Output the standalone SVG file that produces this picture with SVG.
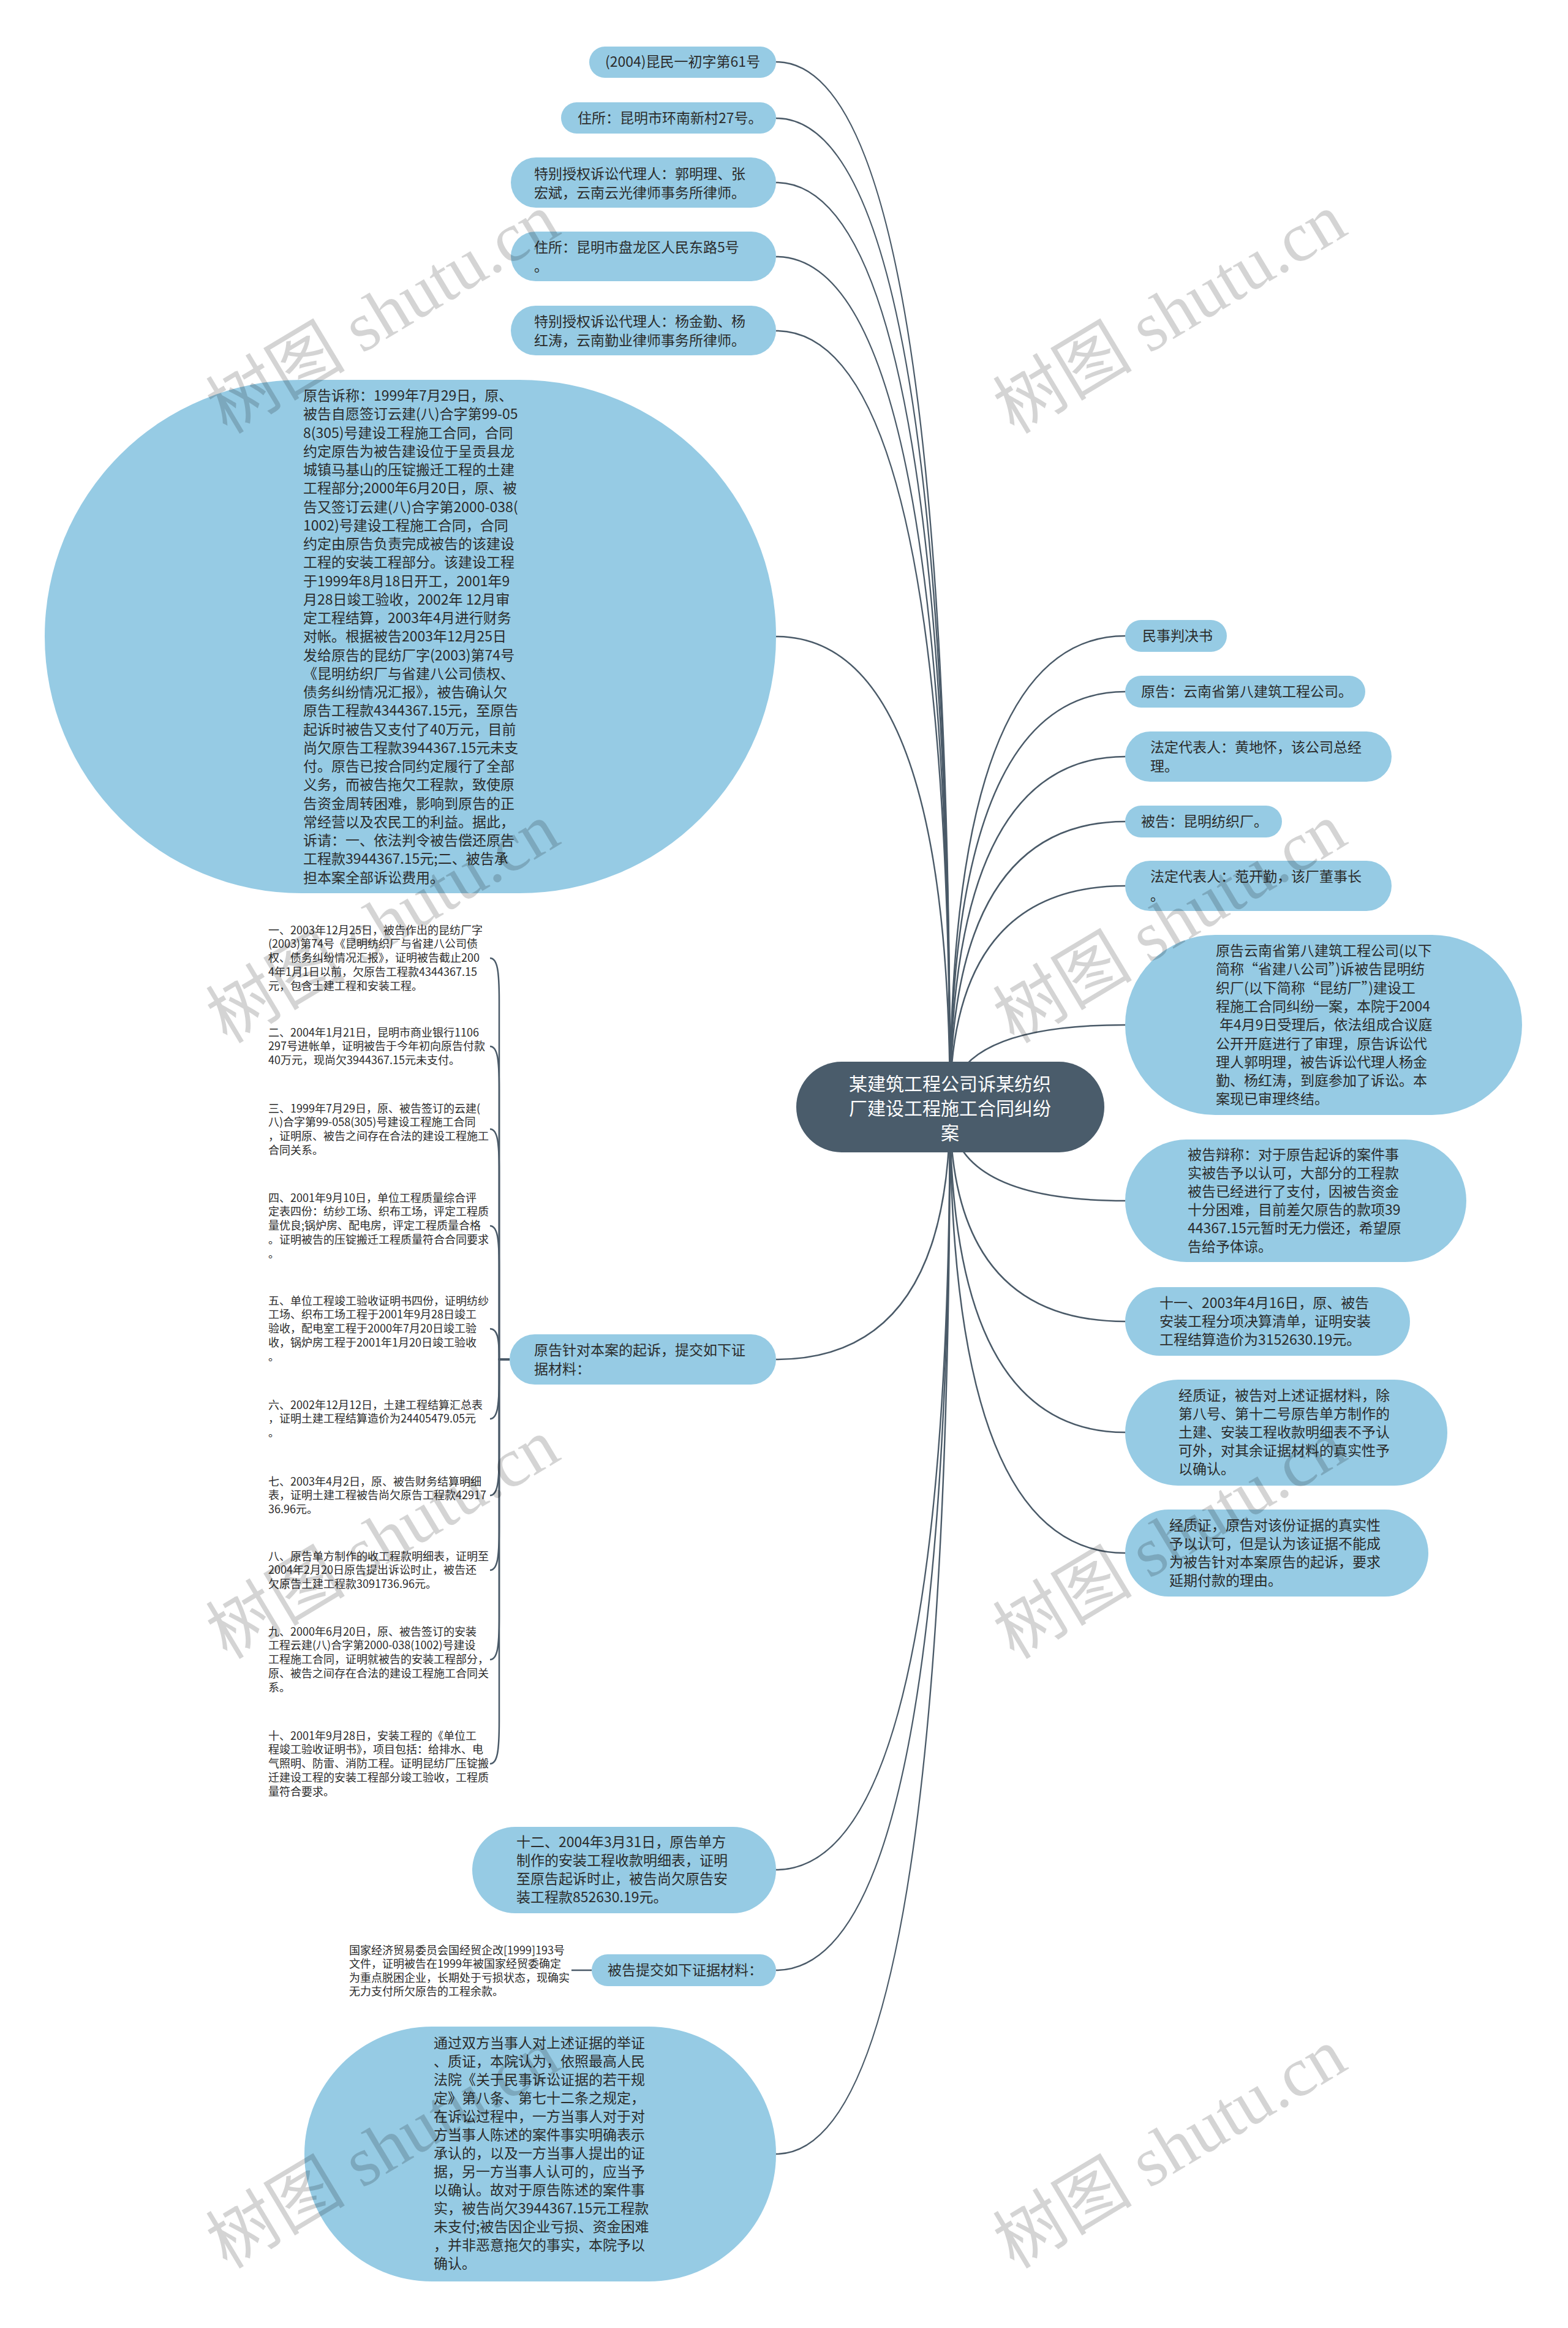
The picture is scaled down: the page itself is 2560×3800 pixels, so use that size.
<svg xmlns="http://www.w3.org/2000/svg" width="2560" height="3800" viewBox="0 0 2560 3800">
<style>
.n{fill:#96cbe4}
.c{fill:#4a5c6b}
.t{font-family:"Noto Sans CJK SC","Noto Sans",sans-serif;font-size:23px;fill:#2b2b2b}
.s{font-family:"Noto Sans CJK SC","Noto Sans",sans-serif;font-size:18px;fill:#2b2b2b}
.ct{font-family:"Noto Sans CJK SC","Noto Sans",sans-serif;font-size:30px;fill:#ffffff;text-anchor:middle}
.e{fill:none;stroke:#4a5a68;stroke-width:2.5}
.w{font-family:"Liberation Serif","Noto Sans CJK SC",serif;font-size:114px;fill:#000;fill-opacity:0.17;text-anchor:middle}
</style>
<rect width="2560" height="3800" fill="#ffffff"/>
<g id="connectors">
<path class="e" d="M1267,101 Q1551,101 1551,1807"/>
<path class="e" d="M1267,193 Q1551,193 1551,1807"/>
<path class="e" d="M1267,298 Q1551,298 1551,1807"/>
<path class="e" d="M1267,419 Q1551,419 1551,1807"/>
<path class="e" d="M1267,540 Q1551,540 1551,1807"/>
<path class="e" d="M1267,1039 Q1551,1039 1551,1807"/>
<path class="e" d="M1267,2219 Q1551,2219 1551,1807"/>
<path class="e" d="M1267,3052 Q1551,3052 1551,1807"/>
<path class="e" d="M1267,3216 Q1551,3216 1551,1807"/>
<path class="e" d="M1267,3516 Q1551,3516 1551,1807"/>
<path class="e" d="M1551,1807 Q1551,1038 1837,1038"/>
<path class="e" d="M1551,1807 Q1551,1129 1837,1129"/>
<path class="e" d="M1551,1807 Q1551,1235 1837,1235"/>
<path class="e" d="M1551,1807 Q1551,1341 1837,1341"/>
<path class="e" d="M1551,1807 Q1551,1446 1837,1446"/>
<path class="e" d="M1551,1807 Q1551,1673 1837,1673"/>
<path class="e" d="M1551,1807 Q1551,1960 1837,1960"/>
<path class="e" d="M1551,1807 Q1551,2157 1837,2157"/>
<path class="e" d="M1551,1807 Q1551,2338 1837,2338"/>
<path class="e" d="M1551,1807 Q1551,2535 1837,2535"/>
<path class="e" d="M800,1564 C812,1564 815,1584 815,1634 L815,2219 L832,2219"/>
<path class="e" d="M800,1708 C812,1708 815,1728 815,1778 L815,2219 L832,2219"/>
<path class="e" d="M800,1843 C812,1843 815,1863 815,1913 L815,2219 L832,2219"/>
<path class="e" d="M800,2001 C812,2001 815,2021 815,2071 L815,2219 L832,2219"/>
<path class="e" d="M800,2169 C812,2169 815,2184 815,2219 L832,2219"/>
<path class="e" d="M800,2316 C812,2316 815,2296 815,2246 L815,2219 L832,2219"/>
<path class="e" d="M800,2441 C812,2441 815,2421 815,2371 L815,2219 L832,2219"/>
<path class="e" d="M800,2563 C812,2563 815,2543 815,2493 L815,2219 L832,2219"/>
<path class="e" d="M800,2709 C812,2709 815,2689 815,2639 L815,2219 L832,2219"/>
<path class="e" d="M800,2879 C812,2879 815,2859 815,2809 L815,2219 L832,2219"/>
<path class="e" d="M933,3216 L966,3216"/>
</g>
<g id="n-center">
<rect class="c" x="1300" y="1733" width="503" height="148" rx="74"/>
<text class="ct"><tspan x="1551" y="1780">某建筑工程公司诉某纺织</tspan><tspan x="1551" y="1820">厂建设工程施工合同纠纷</tspan><tspan x="1551" y="1860">案</tspan></text>
</g>
<g id="n-case-no">
<rect class="n" x="962" y="76" width="305" height="51" rx="25.5"/>
<text class="t" x="988" y="109">(2004)昆民一初字第61号</text>
</g>
<g id="n-addr1">
<rect class="n" x="916" y="167" width="351" height="51" rx="25.5"/>
<text class="t" x="943" y="201">住所：昆明市环南新村27号。</text>
</g>
<g id="n-agent1">
<rect class="n" x="834" y="257" width="433" height="82" rx="41"/>
<text class="t"><tspan x="872" y="292">特别授权诉讼代理人：郭明理、张</tspan><tspan x="872" y="323">宏斌，云南云光律师事务所律师。</tspan></text>
</g>
<g id="n-addr2">
<rect class="n" x="834" y="378" width="433" height="81" rx="40.5"/>
<text class="t"><tspan x="872" y="412">住所：昆明市盘龙区人民东路5号</tspan><tspan x="872" y="443">。</tspan></text>
</g>
<g id="n-agent2">
<rect class="n" x="834" y="499" width="433" height="81" rx="40.5"/>
<text class="t"><tspan x="872" y="533">特别授权诉讼代理人：杨金勤、杨</tspan><tspan x="872" y="564">红涛，云南勤业律师事务所律师。</tspan></text>
</g>
<g id="n-claim">
<rect class="n" x="73" y="620" width="1194" height="838" rx="419"/>
<text class="t"><tspan x="495" y="654">原告诉称：1999年7月29日，原、</tspan><tspan x="495" dy="30.25">被告自愿签订云建(八)合字第99-05</tspan><tspan x="495" dy="30.25">8(305)号建设工程施工合同，合同</tspan><tspan x="495" dy="30.25">约定原告为被告建设位于呈贡县龙</tspan><tspan x="495" dy="30.25">城镇马基山的压锭搬迁工程的土建</tspan><tspan x="495" dy="30.25">工程部分;2000年6月20日，原、被</tspan><tspan x="495" dy="30.25">告又签订云建(八)合字第2000-038(</tspan><tspan x="495" dy="30.25">1002)号建设工程施工合同，合同</tspan><tspan x="495" dy="30.25">约定由原告负责完成被告的该建设</tspan><tspan x="495" dy="30.25">工程的安装工程部分。该建设工程</tspan><tspan x="495" dy="30.25">于1999年8月18日开工，2001年9</tspan><tspan x="495" dy="30.25">月28日竣工验收，2002年 12月审</tspan><tspan x="495" dy="30.25">定工程结算，2003年4月进行财务</tspan><tspan x="495" dy="30.25">对帐。根据被告2003年12月25日</tspan><tspan x="495" dy="30.25">发给原告的昆纺厂字(2003)第74号</tspan><tspan x="495" dy="30.25">《昆明纺织厂与省建八公司债权、</tspan><tspan x="495" dy="30.25">债务纠纷情况汇报》，被告确认欠</tspan><tspan x="495" dy="30.25">原告工程款4344367.15元，至原告</tspan><tspan x="495" dy="30.25">起诉时被告又支付了40万元，目前</tspan><tspan x="495" dy="30.25">尚欠原告工程款3944367.15元未支</tspan><tspan x="495" dy="30.25">付。原告已按合同约定履行了全部</tspan><tspan x="495" dy="30.25">义务，而被告拖欠工程款，致使原</tspan><tspan x="495" dy="30.25">告资金周转困难，影响到原告的正</tspan><tspan x="495" dy="30.25">常经营以及农民工的利益。据此，</tspan><tspan x="495" dy="30.25">诉请：一、依法判令被告偿还原告</tspan><tspan x="495" dy="30.25">工程款3944367.15元;二、被告承</tspan><tspan x="495" dy="30.25">担本案全部诉讼费用。</tspan></text>
</g>
<g id="n-ev1">
<text class="s"><tspan x="438" y="1524.5">一、2003年12月25日，被告作出的昆纺厂字</tspan><tspan x="438" dy="22.8">(2003)第74号《昆明纺织厂与省建八公司债</tspan><tspan x="438" dy="22.8">权、债务纠纷情况汇报》，证明被告截止200</tspan><tspan x="438" dy="22.8">4年1月1日以前，欠原告工程款4344367.15</tspan><tspan x="438" dy="22.8">元，包含土建工程和安装工程。</tspan></text>
</g>
<g id="n-ev2">
<text class="s"><tspan x="438" y="1691.5">二、2004年1月21日，昆明市商业银行1106</tspan><tspan x="438" dy="22.8">297号进帐单，证明被告于今年初向原告付款</tspan><tspan x="438" dy="22.8">40万元，现尚欠3944367.15元未支付。</tspan></text>
</g>
<g id="n-ev3">
<text class="s"><tspan x="438" y="1815.5">三、1999年7月29日，原、被告签订的云建(</tspan><tspan x="438" dy="22.8">八)合字第99-058(305)号建设工程施工合同</tspan><tspan x="438" dy="22.8">，证明原、被告之间存在合法的建设工程施工</tspan><tspan x="438" dy="22.8">合同关系。</tspan></text>
</g>
<g id="n-ev4">
<text class="s"><tspan x="438" y="1961.5">四、2001年9月10日，单位工程质量综合评</tspan><tspan x="438" dy="22.8">定表四份：纺纱工场、织布工场，评定工程质</tspan><tspan x="438" dy="22.8">量优良;锅炉房、配电房，评定工程质量合格</tspan><tspan x="438" dy="22.8">。证明被告的压锭搬迁工程质量符合合同要求</tspan><tspan x="438" dy="22.8">。</tspan></text>
</g>
<g id="n-ev5">
<text class="s"><tspan x="438" y="2129.5">五、单位工程竣工验收证明书四份，证明纺纱</tspan><tspan x="438" dy="22.8">工场、织布工场工程于2001年9月28日竣工</tspan><tspan x="438" dy="22.8">验收，配电室工程于2000年7月20日竣工验</tspan><tspan x="438" dy="22.8">收，锅炉房工程于2001年1月20日竣工验收</tspan><tspan x="438" dy="22.8">。</tspan></text>
</g>
<g id="n-ev6">
<text class="s"><tspan x="438" y="2299.5">六、2002年12月12日，土建工程结算汇总表</tspan><tspan x="438" dy="22.8">，证明土建工程结算造价为24405479.05元</tspan><tspan x="438" dy="22.8">。</tspan></text>
</g>
<g id="n-ev7">
<text class="s"><tspan x="438" y="2424.5">七、2003年4月2日，原、被告财务结算明细</tspan><tspan x="438" dy="22.8">表，证明土建工程被告尚欠原告工程款42917</tspan><tspan x="438" dy="22.8">36.96元。</tspan></text>
</g>
<g id="n-ev8">
<text class="s"><tspan x="438" y="2546.5">八、原告单方制作的收工程款明细表，证明至</tspan><tspan x="438" dy="22.8">2004年2月20日原告提出诉讼时止，被告还</tspan><tspan x="438" dy="22.8">欠原告土建工程款3091736.96元。</tspan></text>
</g>
<g id="n-ev9">
<text class="s"><tspan x="438" y="2669.5">九、2000年6月20日，原、被告签订的安装</tspan><tspan x="438" dy="22.8">工程云建(八)合字第2000-038(1002)号建设</tspan><tspan x="438" dy="22.8">工程施工合同，证明就被告的安装工程部分，</tspan><tspan x="438" dy="22.8">原、被告之间存在合法的建设工程施工合同关</tspan><tspan x="438" dy="22.8">系。</tspan></text>
</g>
<g id="n-ev10">
<text class="s"><tspan x="438" y="2839.5">十、2001年9月28日，安装工程的《单位工</tspan><tspan x="438" dy="22.8">程竣工验收证明书》，项目包括：给排水、电</tspan><tspan x="438" dy="22.8">气照明、防雷、消防工程。证明昆纺厂压锭搬</tspan><tspan x="438" dy="22.8">迁建设工程的安装工程部分竣工验收，工程质</tspan><tspan x="438" dy="22.8">量符合要求。</tspan></text>
</g>
<g id="n-plaintiff-evidence">
<rect class="n" x="832" y="2178" width="435" height="82" rx="41"/>
<text class="t"><tspan x="872" y="2212">原告针对本案的起诉，提交如下证</tspan><tspan x="872" y="2243">据材料：</tspan></text>
</g>
<g id="n-ev12">
<rect class="n" x="771" y="2982" width="496" height="141" rx="70.5"/>
<text class="t"><tspan x="843" y="3015">十二、2004年3月31日，原告单方</tspan><tspan x="843" dy="30">制作的安装工程收款明细表，证明</tspan><tspan x="843" dy="30">至原告起诉时止，被告尚欠原告安</tspan><tspan x="843" dy="30">装工程款852630.19元。</tspan></text>
</g>
<g id="n-defendant-evidence">
<rect class="n" x="966" y="3190" width="301" height="52" rx="26"/>
<text class="t" x="992" y="3224">被告提交如下证据材料：</text>
</g>
<g id="n-def-ev1">
<text class="s"><tspan x="570" y="3189.5">国家经济贸易委员会国经贸企改[1999]193号</tspan><tspan x="570" dy="22.5">文件，证明被告在1999年被国家经贸委确定</tspan><tspan x="570" dy="22.5">为重点脱困企业，长期处于亏损状态，现确实</tspan><tspan x="570" dy="22.5">无力支付所欠原告的工程余款。</tspan></text>
</g>
<g id="n-court-finding">
<rect class="n" x="497" y="3308" width="770" height="416" rx="208"/>
<text class="t"><tspan x="708" y="3343">通过双方当事人对上述证据的举证</tspan><tspan x="708" dy="30">、质证，本院认为，依照最高人民</tspan><tspan x="708" dy="30">法院《关于民事诉讼证据的若干规</tspan><tspan x="708" dy="30">定》第八条、第七十二条之规定，</tspan><tspan x="708" dy="30">在诉讼过程中，一方当事人对于对</tspan><tspan x="708" dy="30">方当事人陈述的案件事实明确表示</tspan><tspan x="708" dy="30">承认的，以及一方当事人提出的证</tspan><tspan x="708" dy="30">据，另一方当事人认可的，应当予</tspan><tspan x="708" dy="30">以确认。故对于原告陈述的案件事</tspan><tspan x="708" dy="30">实，被告尚欠3944367.15元工程款</tspan><tspan x="708" dy="30">未支付;被告因企业亏损、资金困难</tspan><tspan x="708" dy="30">，并非恶意拖欠的事实，本院予以</tspan><tspan x="708" dy="30">确认。</tspan></text>
</g>
<g id="n-judgment">
<rect class="n" x="1837" y="1012" width="166" height="52" rx="26"/>
<text class="t" x="1865" y="1046">民事判决书</text>
</g>
<g id="n-plaintiff">
<rect class="n" x="1837" y="1103" width="392" height="52" rx="26"/>
<text class="t" x="1863" y="1137">原告：云南省第八建筑工程公司。</text>
</g>
<g id="n-rep1">
<rect class="n" x="1837" y="1194" width="435" height="82" rx="41"/>
<text class="t"><tspan x="1878" y="1228">法定代表人：黄地怀，该公司总经</tspan><tspan x="1878" y="1259">理。</tspan></text>
</g>
<g id="n-defendant">
<rect class="n" x="1837" y="1315" width="256" height="52" rx="26"/>
<text class="t" x="1863" y="1349">被告：昆明纺织厂。</text>
</g>
<g id="n-rep2">
<rect class="n" x="1837" y="1405" width="435" height="82" rx="41"/>
<text class="t"><tspan x="1878" y="1439">法定代表人：范开勤，该厂董事长</tspan><tspan x="1878" y="1470">。</tspan></text>
</g>
<g id="n-case">
<rect class="n" x="1837" y="1526" width="648" height="294" rx="147"/>
<text class="t"><tspan x="1985" y="1560">原告云南省第八建筑工程公司(以下</tspan><tspan x="1985" dy="30.3">简称“省建八公司”)诉被告昆明纺</tspan><tspan x="1985" dy="30.3">织厂(以下简称“昆纺厂”)建设工</tspan><tspan x="1985" dy="30.3">程施工合同纠纷一案，本院于2004</tspan><tspan x="1991" dy="30.3">年4月9日受理后，依法组成合议庭</tspan><tspan x="1985" dy="30.3">公开开庭进行了审理，原告诉讼代</tspan><tspan x="1985" dy="30.3">理人郭明理，被告诉讼代理人杨金</tspan><tspan x="1985" dy="30.3">勤、杨红涛，到庭参加了诉讼。本</tspan><tspan x="1985" dy="30.3">案现已审理终结。</tspan></text>
</g>
<g id="n-defense">
<rect class="n" x="1837" y="1860" width="557" height="200" rx="100"/>
<text class="t"><tspan x="1939" y="1893">被告辩称：对于原告起诉的案件事</tspan><tspan x="1939" dy="30">实被告予以认可，大部分的工程款</tspan><tspan x="1939" dy="30">被告已经进行了支付，因被告资金</tspan><tspan x="1939" dy="30">十分困难，目前差欠原告的款项39</tspan><tspan x="1939" dy="30">44367.15元暂时无力偿还，希望原</tspan><tspan x="1939" dy="30">告给予体谅。</tspan></text>
</g>
<g id="n-ev11">
<rect class="n" x="1837" y="2101" width="465" height="112" rx="56"/>
<text class="t"><tspan x="1893" y="2135">十一、2003年4月16日，原、被告</tspan><tspan x="1893" dy="30">安装工程分项决算清单，证明安装</tspan><tspan x="1893" dy="30">工程结算造价为3152630.19元。</tspan></text>
</g>
<g id="n-cross1">
<rect class="n" x="1837" y="2252" width="526" height="173" rx="86.5"/>
<text class="t"><tspan x="1924" y="2286">经质证，被告对上述证据材料，除</tspan><tspan x="1924" dy="30">第八号、第十二号原告单方制作的</tspan><tspan x="1924" dy="30">土建、安装工程收款明细表不予认</tspan><tspan x="1924" dy="30">可外，对其余证据材料的真实性予</tspan><tspan x="1924" dy="30">以确认。</tspan></text>
</g>
<g id="n-cross2">
<rect class="n" x="1837" y="2464" width="495" height="142" rx="71"/>
<text class="t"><tspan x="1909" y="2498">经质证，原告对该份证据的真实性</tspan><tspan x="1909" dy="30">予以认可，但是认为该证据不能成</tspan><tspan x="1909" dy="30">为被告针对本案原告的起诉，要求</tspan><tspan x="1909" dy="30">延期付款的理由。</tspan></text>
</g>
<g id="watermarks">
<text class="w" transform="translate(645,545) rotate(-31)">树图 shutu.cn</text>
<text class="w" transform="translate(1930,545) rotate(-31)">树图 shutu.cn</text>
<text class="w" transform="translate(645,1540) rotate(-31)">树图 shutu.cn</text>
<text class="w" transform="translate(1930,1540) rotate(-31)">树图 shutu.cn</text>
<text class="w" transform="translate(645,2545) rotate(-31)">树图 shutu.cn</text>
<text class="w" transform="translate(1930,2545) rotate(-31)">树图 shutu.cn</text>
<text class="w" transform="translate(645,3540) rotate(-31)">树图 shutu.cn</text>
<text class="w" transform="translate(1930,3540) rotate(-31)">树图 shutu.cn</text>
</g>
</svg>
